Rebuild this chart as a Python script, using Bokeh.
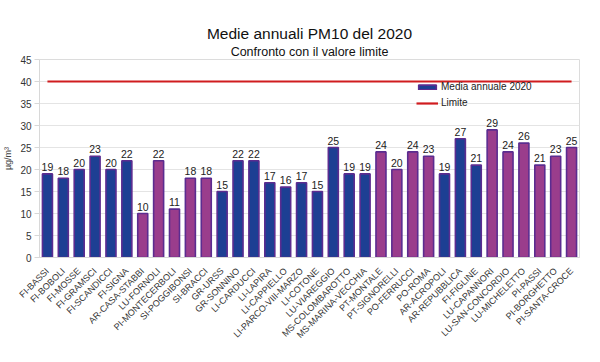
import math
from bokeh.plotting import figure
from bokeh.models import ColumnDataSource, FixedTicker, Legend, LegendItem, Title
from bokeh.core.properties import value
from bokeh.embed import file_html
from bokeh.resources import INLINE

stations = ["FI-BASSI", "FI-BOBOLI", "FI-MOSSE", "FI-GRAMSCI", "FI-SCANDICCI", "FI-SIGNA",
            "AR-CASA-STABBI", "LU-FORNOLI", "PI-MONTECERBOLI", "SI-POGGIBONSI", "SI-BRACCI",
            "GR-URSS", "GR-SONNINO", "LI-CARDUCCI", "LI-LAPIRA", "LI-CAPPIELLO",
            "LI-PARCO-VIII-MARZO", "LI-COTONE", "LU-VIAREGGIO", "MS-COLOMBAROTTO",
            "MS-MARINA-VECCHIA", "PT-MONTALE", "PT-SIGNORELLI", "PO-FERRUCCI", "PO-ROMA",
            "AR-ACROPOLI", "AR-REPUBBLICA", "FI-FIGLINE", "LU-CAPANNORI", "LU-SAN-CONCORDIO",
            "LU-MICHELETTO", "PI-PASSI", "PI-BORGHETTO", "PI-SANTA-CROCE"]
means = [19, 18, 20, 23, 20, 22, 10, 22, 11, 18, 18, 15, 22, 22, 17, 16, 17, 15, 25, 19,
         19, 24, 20, 24, 23, 19, 27, 21, 29, 24, 26, 21, 23, 25]
# station type: "U" urban traffic (blue), "F" background (magenta)
kinds = ["U", "U", "U", "U", "U", "U", "F", "F", "F", "F", "F", "U", "U", "U", "U", "U",
         "U", "U", "U", "U", "U", "F", "F", "F", "F", "U", "U", "U", "F", "F", "F", "F", "F", "F"]
limit_value = 40
y_ticks = [0, 5, 10, 15, 20, 25, 30, 35, 40, 45]

BLUE = "#1d3f93"
MAGENTA = "#9a3d8c"
EDGE = "#5b2c90"
RED = "#d01c1f"
FONT = "Liberation Sans"

colors = [BLUE if k == "U" else MAGENTA for k in kinds]
src = ColumnDataSource(dict(x=stations, y=means, c=colors, t=[str(v) for v in means]))

p = figure(x_range=stations, y_range=(0, 45), width=584, height=346,
           output_backend="svg", toolbar_location=None, title=None,
           min_border_left=39, min_border_right=5, min_border_top=59, min_border_bottom=79)
p.x_range.range_padding = 0

p.add_layout(Title(text="Confronto con il valore limite", align="center",
                   text_font=FONT, text_font_size="12.5px", text_font_style="normal",
                   text_color="#111111", standoff=2), "above")
p.add_layout(Title(text="Medie annuali PM10 del 2020", align="center",
                   text_font=FONT, text_font_size="15.5px", text_font_style="normal",
                   text_color="#111111", standoff=0), "above")

bars = p.vbar(x="x", top="y", width=0.63, source=src, fill_color="c",
              line_color=EDGE, line_width=1.6)
p.text(x="x", y="y", text="t", source=src, y_offset=-3, text_align="center",
       text_baseline="bottom", text_font=value(FONT), text_font_size="10.5px",
       text_color="#222222")

lim = p.line(x=[stations[0], stations[-1]], y=[limit_value, limit_value],
             line_color=RED, line_width=2.2)

legend = Legend(items=[LegendItem(label="Media annuale 2020", renderers=[bars], index=0),
                       LegendItem(label="Limite", renderers=[lim])],
                location=(377, 149), border_line_color=None, background_fill_alpha=0,
                glyph_width=22, glyph_height=6, label_height=10, spacing=5,
                label_text_font=FONT, label_text_font_size="10px",
                label_text_color="#222222", padding=4, margin=0, label_standoff=3)
p.add_layout(legend, "center")

p.yaxis.ticker = FixedTicker(ticks=y_ticks)
p.yaxis.axis_label = "µg/m³"
p.yaxis.axis_label_text_font = FONT
p.yaxis.axis_label_text_font_size = "9px"
p.yaxis.axis_label_text_font_style = "normal"
p.yaxis.axis_label_standoff = 4
p.yaxis.major_label_text_font = FONT
p.yaxis.major_label_text_font_size = "10px"
p.yaxis.major_label_text_color = "#333333"
p.yaxis.major_label_standoff = 3
p.yaxis.axis_line_color = "#d8d8d8"
p.yaxis.major_tick_line_color = "#d8d8d8"
p.yaxis.major_tick_out = 5
p.yaxis.major_tick_in = 0
p.yaxis.minor_tick_line_color = None

p.xaxis.major_label_orientation = math.pi / 4
p.xaxis.major_label_text_font = FONT
p.xaxis.major_label_text_font_size = "9px"
p.xaxis.major_label_text_color = "#333333"
p.xaxis.axis_line_color = "#d8d8d8"
p.xaxis.major_tick_line_color = None
p.xaxis.major_label_standoff = 6

p.xgrid.grid_line_color = None
p.ygrid.grid_line_color = "#e4e4e4"
p.outline_line_color = "#dcdcdc"
p.background_fill_color = "white"
p.border_fill_color = "white"

open("out.html", "w").write(file_html(p, INLINE))
